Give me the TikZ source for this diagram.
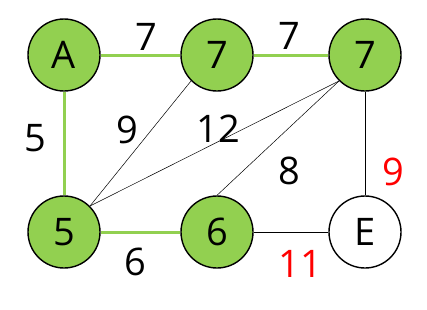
\documentclass[tikz,border=0pt]{standalone}
\usepackage{fontspec}
\setmainfont{Open Sans}
\usepackage{xcolor}
\definecolor{treegreen}{HTML}{92D050}
\definecolor{costred}{HTML}{FF0000}
\usetikzlibrary{positioning}

\begin{document}
\begin{tikzpicture}[
    x=1pt, y=1pt,
    vertex/.style={circle, draw=black, line width=1.4pt, minimum size=72pt, inner sep=0pt, font=\fontsize{38}{40}\selectfont},
    done/.style={vertex, fill=treegreen},
    open/.style={vertex, fill=white},
    tree/.style={draw=treegreen, line width=3pt},
    plain/.style={draw=black, line width=0.5pt},
    weight/.style={font=\fontsize{38}{40}\selectfont, inner sep=0pt},
    newcost/.style={weight, text=costred},
]
\useasboundingbox (0,0) rectangle (427,309);

\node[done] (a)  at (64,254) {A};
\node[done] (b)  at (217,254) {7};
\node[done] (c)  at (365,254) {7};
\node[done] (d)  at (64,77) {5};
\node[done] (f)  at (217,77) {6};
\node[open] (e)  at (365,77) {E};

\draw[tree] (a) -- (b);
\draw[tree] (b) -- (c);
\draw[tree] (a) -- (d);
\draw[tree] (d) -- (f);
\draw[plain] (d.north east) -- (b.south west);
\draw[plain] (d.north east) -- (c.south west);
\draw[plain] (f.north) -- (c.south west);
\draw[plain] (c) -- (e);
\draw[plain] (f) -- (e);

\node[weight] (wab) at (146,272) {7};
\node[weight] (wbc) at (289,273) {7};
\node[weight] (wad) at (35,171) {5};
\node[weight] (wbd) at (127,179) {9};
\node[weight] (wcd) at (218,180) {12};
\node[weight] (wcf) at (289,138) {8};
\node[newcost] (wce) at (393,137) {9};
\node[weight] (wdf) at (135,47) {6};
\node[newcost] (wfe) at (300,45) {11};

\end{tikzpicture}
\end{document}
